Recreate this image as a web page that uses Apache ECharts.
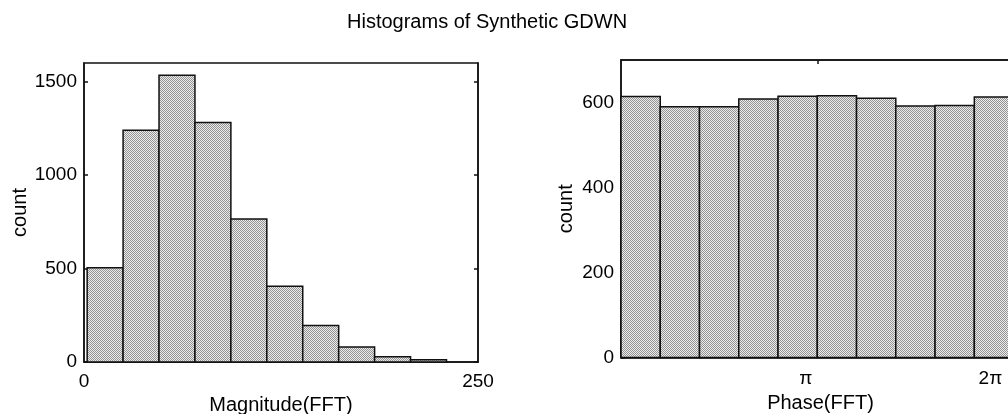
<!DOCTYPE html>
<html>
<head>
<meta charset="utf-8">
<script src="https://cdn.jsdelivr.net/npm/echarts@6/dist/echarts.min.js"></script>
<style>
  html, body { margin: 0; padding: 0; background: #fff; }
  #chart { width: 1008px; height: 414px; }
</style>
</head>
<body>
<div id="chart"></div>
<script>
// Magnitude histogram: bin edges and counts
const magEdges = [2, 24.8, 47.6, 70.4, 93.2, 116, 138.8, 161.6, 184.4, 207.2, 230];
const magCounts = [505, 1240, 1535, 1282, 765, 405, 195, 80, 28, 12];
const magYTicks = [0, 500, 1000, 1500];
const magXTicks = [0, 250];

// Phase histogram: bin edges (in multiples of pi) and counts
const phaseEdgesPi = [0, 0.2, 0.4, 0.6, 0.8, 1.0, 1.2, 1.4, 1.6, 1.8, 2.0];
const phaseCounts = [614, 590, 590, 608, 615, 616, 610, 592, 593, 613];
const phaseYTicks = [0, 200, 400, 600];
const phaseXTicksPi = [1, 2];
const phaseXTickText = ['\u03c0', '2\u03c0'];

const FONT = '"Liberation Sans", Arial, Helvetica, sans-serif';

// halftone-like stipple fill for the bars
const tile = document.createElement('canvas');
tile.width = 2; tile.height = 2;
const tctx = tile.getContext('2d');
tctx.fillStyle = '#ececec';
tctx.fillRect(0, 0, 2, 2);
tctx.fillStyle = '#939393';
tctx.fillRect(0, 0, 1, 1);
tctx.fillRect(1, 1, 1, 1);
const stipple = { image: tile, repeat: 'repeat' };

function binData(edges, counts) {
  return counts.map((c, i) => [edges[i], edges[i + 1], c]);
}

function renderBin(params, api) {
  const p0 = api.coord([api.value(0), api.value(2)]);
  const p1 = api.coord([api.value(1), 0]);
  return {
    type: 'rect',
    shape: { x: p0[0], y: p0[1], width: p1[0] - p0[0], height: p1[1] - p0[1] },
    style: { fill: stipple, stroke: '#111', lineWidth: 1.5 }
  };
}

const phaseEdges = phaseEdgesPi.map(v => v * Math.PI);

const plain = v => String(v);
const labelStyle = { color: '#000', fontFamily: FONT, fontSize: 19 };
const nameStyle = { color: '#000', fontFamily: FONT, fontSize: 20 };
const lineStyle = { color: '#111', width: 1.5 };

const chart = echarts.init(document.getElementById('chart'), null, { renderer: 'canvas' });

chart.setOption({
  animation: false,
  backgroundColor: '#fff',
  title: {
    text: 'Histograms of Synthetic GDWN',
    left: 342,
    top: 7,
    textStyle: { color: '#000', fontFamily: FONT, fontSize: 20, fontWeight: 'normal' }
  },
  grid: [
    { left: 84, top: 63, width: 394, height: 299, outerBoundsMode: 'none', containLabel: false,
      show: true, borderColor: '#111', borderWidth: 1.5, backgroundColor: 'transparent' },
    { left: 621, top: 60, width: 399, height: 297.5, outerBoundsMode: 'none', containLabel: false,
      show: true, borderColor: '#111', borderWidth: 1.5, backgroundColor: 'transparent' }
  ],
  xAxis: [
    {
      gridIndex: 0, type: 'value', min: 0, max: 250,
      axisLine: { onZero: false, lineStyle: lineStyle },
      axisTick: { show: false },
      splitLine: { show: false },
      axisLabel: Object.assign({ margin: 10, customValues: magXTicks, formatter: plain }, labelStyle),
      name: 'Magnitude(FFT)', nameLocation: 'middle', nameGap: 33,
      nameTextStyle: nameStyle
    },
    {
      // bar scale of the phase panel, with its pi tick on the top edge
      gridIndex: 1, type: 'value', min: 0, max: 6.386, position: 'top',
      axisLine: { onZero: false, lineStyle: lineStyle },
      axisTick: { inside: true, length: 4, lineStyle: lineStyle, customValues: [Math.PI] },
      splitLine: { show: false },
      axisLabel: { show: false }
    },
    {
      // phase tick labels along the bottom edge
      gridIndex: 1, type: 'value', min: 0, max: 6.786, position: 'bottom',
      axisLine: { onZero: false, lineStyle: lineStyle },
      axisTick: { show: false },
      splitLine: { show: false },
      axisLabel: Object.assign({
        margin: 12,
        customValues: phaseXTicksPi.map(v => v * Math.PI),
        formatter: function (v) {
          const k = Math.round(v / Math.PI);
          return phaseXTickText[phaseXTicksPi.indexOf(k)] || '';
        }
      }, labelStyle),
      name: 'Phase(FFT)', nameLocation: 'middle', nameGap: 29,
      nameTextStyle: nameStyle
    }
  ],
  yAxis: [
    {
      gridIndex: 0, type: 'value', min: 0, max: 1600,
      axisLine: { show: true, onZero: false, lineStyle: lineStyle },
      axisTick: { show: true, inside: true, length: 4, lineStyle: lineStyle, customValues: magYTicks },
      splitLine: { show: false },
      axisLabel: Object.assign({ margin: 7, customValues: magYTicks, formatter: plain }, labelStyle),
      name: 'count', nameLocation: 'middle', nameGap: 53, nameRotate: 90,
      nameTextStyle: nameStyle
    },
    {
      gridIndex: 0, type: 'value', min: 0, max: 1600, position: 'right',
      axisLine: { show: true, onZero: false, lineStyle: lineStyle },
      axisTick: { show: true, inside: true, length: 4, lineStyle: lineStyle, customValues: magYTicks },
      splitLine: { show: false },
      axisLabel: { show: false }
    },
    {
      gridIndex: 1, type: 'value', min: 0, max: 700,
      axisLine: { show: true, onZero: false, lineStyle: lineStyle },
      axisTick: { show: true, inside: true, length: 4, lineStyle: lineStyle, customValues: phaseYTicks },
      splitLine: { show: false },
      axisLabel: Object.assign({ margin: 7, customValues: phaseYTicks, formatter: plain }, labelStyle),
      name: 'count', nameLocation: 'middle', nameGap: 45, nameRotate: 90,
      nameTextStyle: nameStyle
    }
  ],
  series: [
    {
      type: 'custom', xAxisIndex: 0, yAxisIndex: 0,
      renderItem: renderBin,
      encode: { x: [0, 1], y: 2 },
      data: binData(magEdges, magCounts)
    },
    {
      type: 'custom', xAxisIndex: 1, yAxisIndex: 2,
      renderItem: renderBin,
      encode: { x: [0, 1], y: 2 },
      data: binData(phaseEdges, phaseCounts)
    }
  ]
});
</script>
</body>
</html>
